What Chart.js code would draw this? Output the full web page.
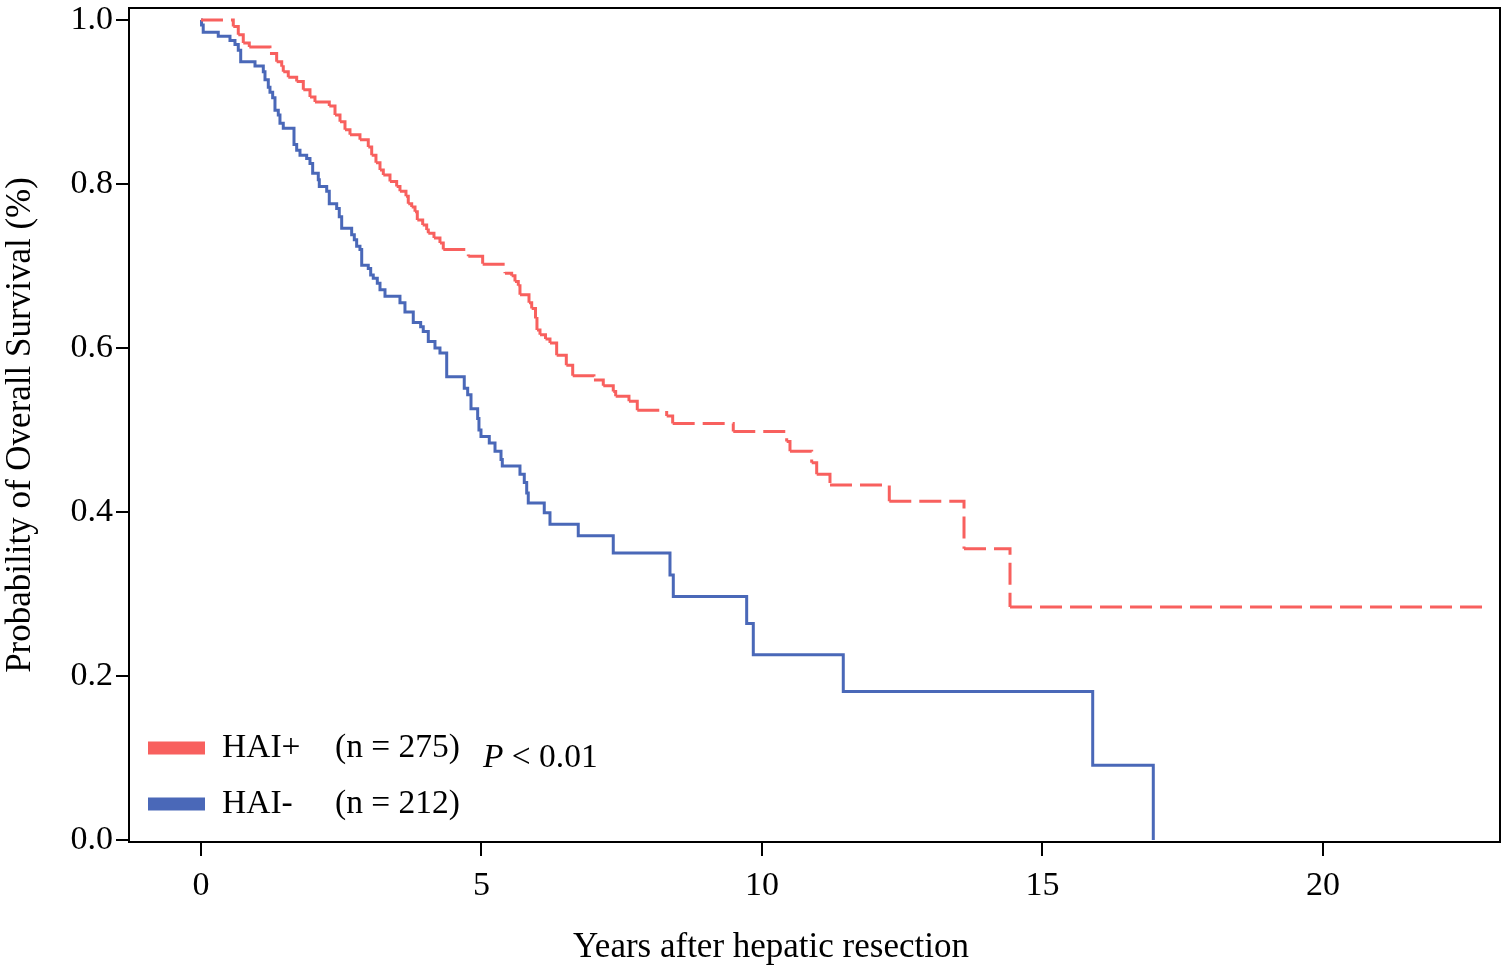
<!DOCTYPE html>
<html>
<head>
<meta charset="utf-8">
<title>Overall survival after hepatic resection</title>
<script src="https://cdn.jsdelivr.net/npm/chart.js@4"></script>
<style>
  html, body { margin: 0; padding: 0; background: #fff; }
  canvas { display: block; }
</style>
</head>
<body>
<canvas id="kmChart" width="1502" height="968"></canvas>
<script>
// =========================
//  DATA
// =========================
const xTicks = [0, 5, 10, 15, 20];
const yTicks = [0, 0.2, 0.4, 0.6, 0.8, 1.0];

// HAI+ : years, survival
const redTimes = [0, 0.576, 0.665, 0.754, 0.861, 1.230, 1.349, 1.439, 1.467, 1.556,
  1.706, 1.824, 1.943, 2.032, 2.287, 2.389, 2.478, 2.567, 2.656, 2.834,
  2.982, 3.043, 3.119, 3.191, 3.250, 3.369, 3.488, 3.547, 3.654, 3.695,
  3.756, 3.815, 3.856, 3.952, 4.023, 4.052, 4.153, 4.260, 4.319, 4.765,
  5.021, 5.419, 5.538, 5.597, 5.656, 5.686, 5.847, 5.895, 5.963, 5.989,
  6.043, 6.141, 6.221, 6.340, 6.512, 6.626, 7.005, 7.171, 7.349, 7.392,
  7.629, 7.777, 8.301, 8.408, 9.488, 10.440, 10.499, 10.886, 10.975, 11.212,
  12.269, 13.601, 14.421, 22.947];
const redSurv = [1.0, 0.992, 0.982, 0.972, 0.967, 0.959, 0.949, 0.943, 0.937, 0.930,
  0.925, 0.915, 0.906, 0.900, 0.895, 0.884, 0.876, 0.866, 0.860, 0.854,
  0.845, 0.835, 0.826, 0.817, 0.811, 0.803, 0.797, 0.791, 0.785, 0.776,
  0.772, 0.766, 0.756, 0.750, 0.744, 0.740, 0.734, 0.728, 0.720, 0.712,
  0.702, 0.691, 0.688, 0.681, 0.676, 0.665, 0.655, 0.648, 0.636, 0.622,
  0.616, 0.611, 0.606, 0.591, 0.579, 0.566, 0.561, 0.554, 0.547, 0.541,
  0.535, 0.524, 0.517, 0.508, 0.498, 0.486, 0.474, 0.460, 0.446, 0.433,
  0.413, 0.355, 0.284, 0.284];

// HAI- : years, survival
const blueTimes = [0, 0.010, 0.040, 0.308, 0.517, 0.606, 0.665, 0.708, 0.963, 1.111,
  1.141, 1.200, 1.230, 1.278, 1.319, 1.378, 1.408, 1.467, 1.658, 1.706,
  1.765, 1.884, 1.943, 1.991, 2.091, 2.109, 2.241, 2.287, 2.419, 2.465,
  2.508, 2.686, 2.733, 2.775, 2.834, 2.865, 2.982, 3.025, 3.071, 3.143,
  3.191, 3.280, 3.547, 3.636, 3.784, 3.916, 3.962, 4.052, 4.171, 4.260,
  4.380, 4.693, 4.754, 4.813, 4.932, 4.955, 4.991, 5.139, 5.241, 5.348,
  5.371, 5.686, 5.763, 5.806, 5.834, 6.119, 6.221, 6.725, 7.349, 8.360,
  8.419, 9.727, 9.845, 11.449, 15.895, 16.975];
const blueSurv = [1.0, 0.994, 0.985, 0.980, 0.975, 0.970, 0.963, 0.949, 0.944, 0.937,
  0.927, 0.918, 0.912, 0.905, 0.890, 0.884, 0.874, 0.868, 0.848, 0.841,
  0.835, 0.831, 0.825, 0.813, 0.805, 0.797, 0.791, 0.776, 0.770, 0.760,
  0.746, 0.738, 0.732, 0.724, 0.720, 0.701, 0.697, 0.689, 0.685, 0.679,
  0.671, 0.663, 0.655, 0.644, 0.631, 0.626, 0.620, 0.608, 0.600, 0.594,
  0.565, 0.551, 0.543, 0.526, 0.514, 0.500, 0.492, 0.484, 0.474, 0.464,
  0.456, 0.446, 0.436, 0.423, 0.411, 0.399, 0.385, 0.371, 0.350, 0.323,
  0.297, 0.264, 0.226, 0.181, 0.091, 0.0];

const groupNames = ["HAI+", "HAI-"];
const groupCounts = ["(n = 275)", "(n = 212)"];
const pText = "< 0.01";
const xTitle = "Years after hepatic resection";
const yTitle = "Probability of Overall Survival (%)";

const RED = "#F8605E";
const BLUE = "#4A68B8";
const FONT = "Liberation Serif";

// =========================
//  PLUGINS
// =========================
const frameBox = {
  id: "frameBox",
  afterDraw(chart) {
    const { ctx, chartArea: a } = chart;
    ctx.save();
    ctx.strokeStyle = "#000";
    ctx.lineWidth = 2;
    ctx.beginPath();
    ctx.moveTo(a.left, a.top);
    ctx.lineTo(a.right, a.top);
    ctx.lineTo(a.right, a.bottom);
    ctx.stroke();
    ctx.restore();
  }
};

const kmLegend = {
  id: "kmLegend",
  afterDraw(chart) {
    const ctx = chart.ctx;
    const colors = [RED, BLUE];
    const rows = [748, 804];
    ctx.save();
    ctx.font = `33.5px "${FONT}"`;
    ctx.textBaseline = "middle";
    ctx.textAlign = "left";
    rows.forEach((y, i) => {
      ctx.fillStyle = colors[i];
      ctx.fillRect(148, y - 6.5, 57, 13);
      ctx.fillStyle = "#000";
      ctx.fillText(groupNames[i], 222, y);
      ctx.fillText(groupCounts[i], 335, y);
    });
    ctx.font = `italic 33.5px "${FONT}"`;
    ctx.fillText("P", 483, 758);
    const w = ctx.measureText("P").width;
    ctx.font = `33.5px "${FONT}"`;
    ctx.fillText(" " + pText, 483 + w, 758);

    // x axis title (sits left of the plot centre in the original)
    ctx.font = `35px "${FONT}"`;
    ctx.textAlign = "center";
    ctx.fillText(xTitle, 771, 948);
    ctx.restore();
  }
};

// =========================
//  CHART
// =========================
Chart.defaults.color = "#000";
Chart.defaults.font.family = FONT;

new Chart(document.getElementById("kmChart"), {
  type: "line",
  data: {
    datasets: [
      {
        label: "HAI+",
        data: redTimes.map((t, i) => ({ x: t, y: redSurv[i] })),
        stepped: true,
        borderColor: RED,
        borderWidth: 3,
        borderDash: [22, 8],
        // restart the dash on every step, as in the original
        segment: { borderDashOffset: c => (c.p0DataIndex % 2 ? 0.0001 : 0) },
        pointRadius: 0,
        fill: false
      },
      {
        label: "HAI-",
        data: blueTimes.map((t, i) => ({ x: t, y: blueSurv[i] })),
        stepped: true,
        borderColor: BLUE,
        borderWidth: 3,
        pointRadius: 0,
        fill: false
      }
    ]
  },
  options: {
    responsive: false,
    animation: false,
    layout: { padding: { top: 8, right: 2, left: 0, bottom: 0 } },
    plugins: {
      legend: { display: false },
      tooltip: { enabled: false }
    },
    scales: {
      x: {
        type: "linear",
        min: -1.283,
        max: 23.155,
        afterBuildTicks: s => { s.ticks = xTicks.map(v => ({ value: v })); },
        afterFit: s => {
          s.height = 126;
          s.paddingLeft = 0;
          s.paddingRight = 0;
        },
        ticks: {
          font: { size: 34 },
          padding: 10,
          callback: v => String(v)
        },
        grid: { drawOnChartArea: false, color: "#000", lineWidth: 2, tickLength: 14 },
        border: { color: "#000", width: 2 },
        title: { display: false }
      },
      y: {
        min: -0.0025,
        max: 1.0146,
        afterBuildTicks: s => { s.ticks = yTicks.map(v => ({ value: v })); },
        afterFit: s => {
          s.width = 129;
          s.paddingTop = 0;
          s.paddingBottom = 0;
        },
        ticks: {
          font: { size: 34 },
          padding: 3,
          callback: v => v.toFixed(1)
        },
        grid: { drawOnChartArea: false, color: "#000", lineWidth: 2, tickLength: 13 },
        border: { color: "#000", width: 2 },
        title: {
          display: true,
          text: yTitle,
          font: { size: 35 },
          padding: { top: 0, bottom: 0 }
        }
      }
    }
  },
  plugins: [frameBox, kmLegend]
});
</script>
</body>
</html>
